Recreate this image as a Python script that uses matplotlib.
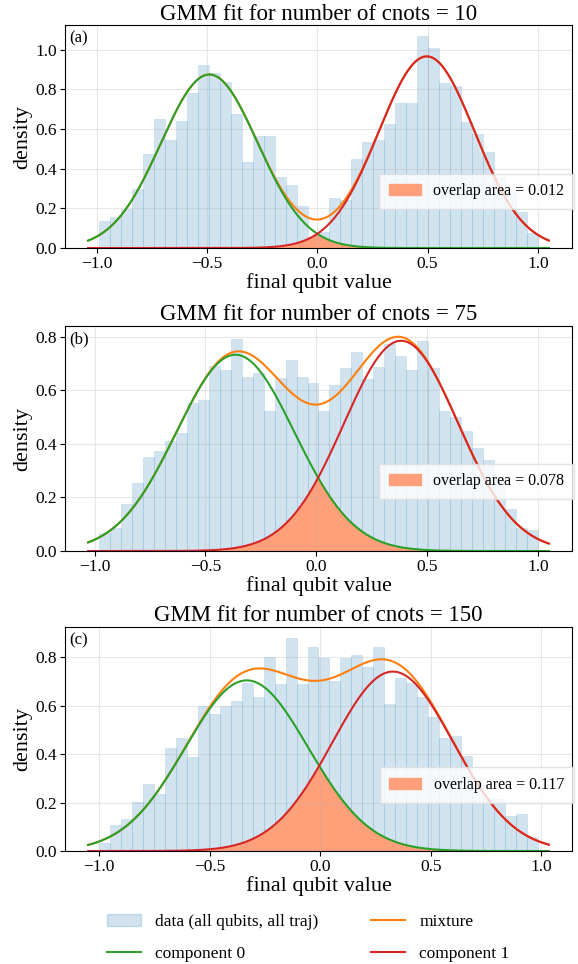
import numpy as np
import matplotlib
matplotlib.use("Agg")
import matplotlib.pyplot as plt
from matplotlib.patches import Patch
from matplotlib.lines import Line2D

plt.rcParams['font.family'] = ['Liberation Serif', 'DejaVu Serif']

# number of cnots per panel
cnots = [10, 75, 150]
panel_tags = ["(a)", "(b)", "(c)"]
overlap_areas = [0.012, 0.078, 0.117]

# histogram range (first edge, last edge), 40 bins each
hist_range_a = [-0.99, 1.0]
hist_range_b = [-0.98, 1.0]
hist_range_c = [-1.0, 0.985]

# density of each bin
hist_a = [0.138, 0.158, 0.198, 0.297, 0.473, 0.651, 0.542, 0.641, 0.781, 0.920,
          0.880, 0.836, 0.676, 0.432, 0.566, 0.566, 0.357, 0.318, 0.214, 0.050,
          0.080, 0.252, 0.243, 0.449, 0.532, 0.542, 0.626, 0.731, 0.731, 1.070,
          1.010, 0.831, 0.816, 0.636, 0.575, 0.485, 0.357, 0.280, 0.180, 0.075]
hist_b = [0.067, 0.087, 0.175, 0.253, 0.350, 0.373, 0.410, 0.440, 0.552, 0.566,
          0.693, 0.678, 0.794, 0.652, 0.667, 0.522, 0.645, 0.712, 0.652, 0.626,
          0.525, 0.622, 0.682, 0.742, 0.641, 0.689, 0.775, 0.730, 0.675, 0.786,
          0.682, 0.522, 0.499, 0.447, 0.384, 0.339, 0.270, 0.157, 0.085, 0.078]
hist_c = [0.035, 0.108, 0.133, 0.203, 0.277, 0.236, 0.425, 0.466, 0.388, 0.600,
          0.564, 0.597, 0.618, 0.692, 0.638, 0.803, 0.688, 0.881, 0.688, 0.844,
          0.799, 0.700, 0.795, 0.811, 0.758, 0.844, 0.605, 0.716, 0.692, 0.634,
          0.552, 0.466, 0.474, 0.392, 0.300, 0.219, 0.213, 0.145, 0.153, 0.057]

# fitted GMM parameters (component 0, component 1)
means_a, sigmas_a, weights_a = [-0.490, 0.496], [0.219, 0.2177], [0.480, 0.527]
means_b, sigmas_b, weights_b = [-0.365, 0.383], [0.266, 0.258], [0.489, 0.508]
means_c, sigmas_c, weights_c = [-0.332, 0.329], [0.278, 0.273], [0.491, 0.507]

panels = [
    (hist_range_a, hist_a, means_a, sigmas_a, weights_a),
    (hist_range_b, hist_b, means_b, sigmas_b, weights_b),
    (hist_range_c, hist_c, means_c, sigmas_c, weights_c),
]


def gauss(x, mu, sigma, w):
    return w * np.exp(-(x - mu) ** 2 / (2 * sigma ** 2)) / (sigma * np.sqrt(2 * np.pi))


fig = plt.figure(figsize=(5.78, 9.64), dpi=100)
axes_pos = [[0.1125, 0.7427, 0.877, 0.2313],
            [0.1125, 0.4284, 0.877, 0.2334],
            [0.1125, 0.1172, 0.877, 0.2324]]
legend_y = [0.255, 0.31, 0.295]

for k, (rng, dens, mus, sigs, ws) in enumerate(panels):
    ax = fig.add_axes(axes_pos[k])
    edges = np.linspace(rng[0], rng[1], len(dens) + 1)
    centers = 0.5 * (edges[:-1] + edges[1:])
    ax.hist(centers, bins=edges, weights=dens, color='tab:blue', alpha=0.2,
            edgecolor='tab:blue', linewidth=0.45,
            label='data (all qubits, all traj)')

    x = np.linspace(edges[0] - 0.05, edges[-1] + 0.05, 500)
    c0 = gauss(x, mus[0], sigs[0], ws[0])
    c1 = gauss(x, mus[1], sigs[1], ws[1])
    ax.plot(x, c0 + c1, color='tab:orange', lw=1.5, label='mixture')
    ov = ax.fill_between(x, np.minimum(c0, c1), color='lightsalmon',
                         label=f"overlap area = {overlap_areas[k]:.3f}")
    ax.plot(x, c0, color='tab:green', lw=1.5, label='component 0')
    ax.plot(x, c1, color='tab:red', lw=1.5, label='component 1')

    ax.grid(True, alpha=0.3)
    ax.set_title(f"GMM fit for number of cnots = {cnots[k]}", fontsize=16.5, pad=4)
    ax.set_xlabel("final qubit value", fontsize=16, labelpad=0.5)
    ax.set_ylabel("density", fontsize=16, labelpad=2)
    ax.tick_params(labelsize=12.5, pad=2.5)
    ax.text(0.008, 0.975, panel_tags[k], transform=ax.transAxes, va='top',
            ha='left', fontsize=12)
    ax.legend(handles=[ov], loc='center right', bbox_to_anchor=(1.02, legend_y[k]),
              fontsize=11.5, fancybox=False, framealpha=0.8, edgecolor='#dddddd',
              borderpad=0.6)

handles = [Patch(color='tab:blue', alpha=0.2),
           Line2D([], [], color='tab:green', lw=1.5),
           Line2D([], [], color='tab:orange', lw=1.5),
           Line2D([], [], color='tab:red', lw=1.5)]
labels = ['data (all qubits, all traj)', 'component 0', 'mixture', 'component 1']
fig.legend(handles, labels, ncol=2, loc='lower center', bbox_to_anchor=(0.533, -0.014),
           frameon=False, fontsize=12.5, columnspacing=3.0, handlelength=2.0,
           labelspacing=0.9)

fig.savefig("out.png", dpi=100)
